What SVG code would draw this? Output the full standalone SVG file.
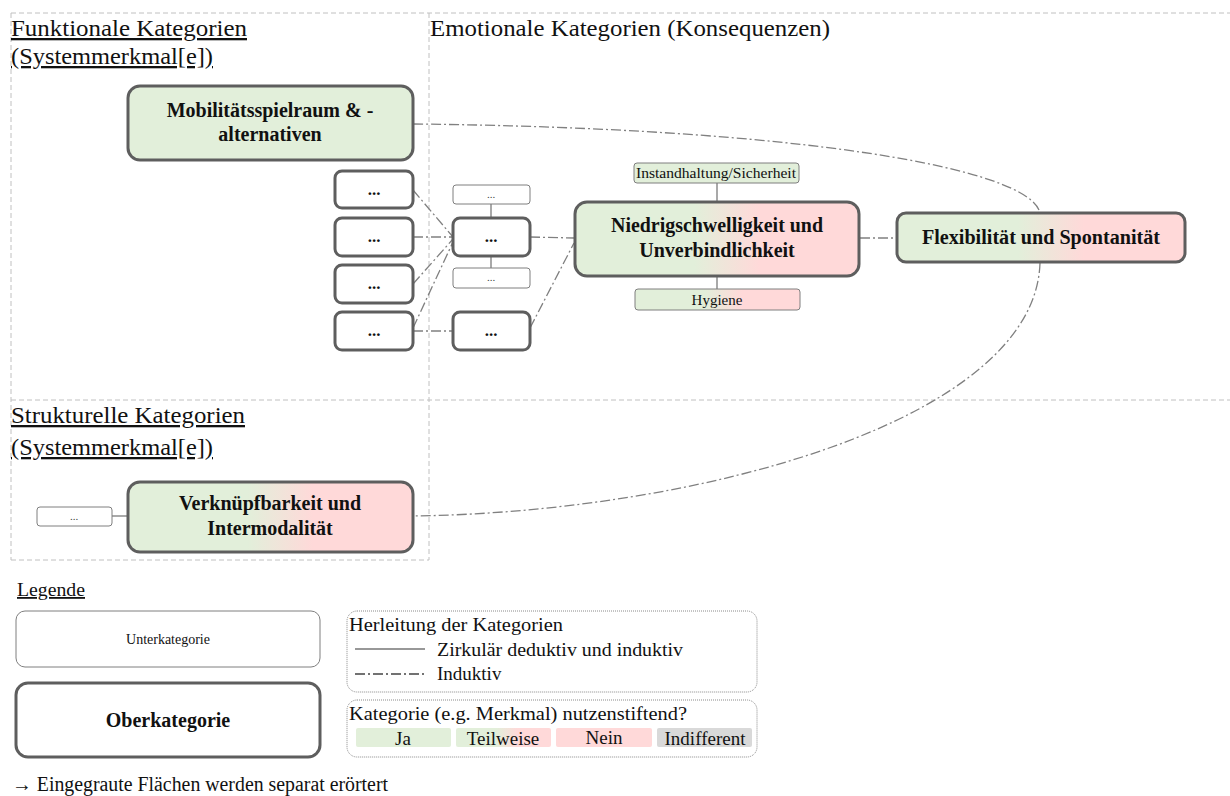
<svg xmlns="http://www.w3.org/2000/svg" width="1230" height="796" viewBox="0 0 1230 796">
<defs>
<linearGradient id="gp" x1="0" y1="0" x2="1" y2="0">
<stop offset="0" stop-color="#e2efda"/><stop offset="0.42" stop-color="#e2efda"/><stop offset="0.65" stop-color="#ffd9d9"/><stop offset="1" stop-color="#ffd9d9"/>
</linearGradient>
<style>
text{font-family:"Liberation Serif","Times New Roman",serif;fill:#111}
.region{fill:none;stroke:#c0c0c0;stroke-width:1;stroke-dasharray:5 3}
.head{font-size:23px;text-decoration:underline}
.big{stroke:#5e5e5e;stroke-width:3}
.small{stroke:#7f7f7f;stroke-width:1}
.bt{font-size:20px;font-weight:bold;text-anchor:middle}
.dots{font-size:17px;font-weight:bold;text-anchor:middle}
.sdots{font-size:11px;text-anchor:middle;fill:#444}
.ind{fill:none;stroke:#808080;stroke-width:1.3;stroke-dasharray:10 3 2 3}
.sol{fill:none;stroke:#707070;stroke-width:1.2}
.leg{font-size:19px}
.green{fill:#e2efda}.pink{fill:#ffd9d9}.grey{fill:#d9d9d9}.white{fill:#fff}
</style>
</defs>

<g id="regions">
<line class="region" x1="11" y1="13" x2="1230" y2="13"/>
<line class="region" x1="11" y1="13" x2="11" y2="560"/>
<line class="region" x1="429" y1="13" x2="429" y2="560"/>
<line class="region" x1="11" y1="400" x2="1230" y2="400"/>
<line class="region" x1="11" y1="560" x2="429" y2="560"/>
<text class="head" x="11" y="36" textLength="236" lengthAdjust="spacingAndGlyphs">Funktionale Kategorien</text>
<text class="head" x="11" y="64" textLength="202" lengthAdjust="spacingAndGlyphs">(Systemmerkmal[e])</text>
<text x="430" y="36" style="font-size:23px" textLength="400" lengthAdjust="spacingAndGlyphs">Emotionale Kategorien (Konsequenzen)</text>
<text class="head" x="11" y="423" textLength="234" lengthAdjust="spacingAndGlyphs">Strukturelle Kategorien</text>
<text class="head" x="11" y="455" textLength="202" lengthAdjust="spacingAndGlyphs">(Systemmerkmal[e])</text>
</g>

<g id="connectors">
<path class="ind" d="M413,124 C800,128 1030,168 1040,213"/>
<path class="ind" d="M1040,263 C1035,420 700,512 413,516"/>
<line class="ind" x1="413" y1="190" x2="453" y2="237"/>
<line class="ind" x1="413" y1="237" x2="453" y2="237"/>
<line class="ind" x1="413" y1="284" x2="453" y2="239"/>
<line class="ind" x1="413" y1="328" x2="453" y2="242"/>
<line class="ind" x1="413" y1="331" x2="453" y2="331"/>
<line class="ind" x1="530" y1="237" x2="574" y2="238"/>
<line class="ind" x1="530" y1="328" x2="574" y2="243"/>
<line class="ind" x1="860" y1="238" x2="897" y2="238"/>
<line class="sol" x1="491" y1="204" x2="491" y2="218"/>
<line class="sol" x1="491" y1="256" x2="491" y2="268"/>
<line class="sol" x1="717" y1="183" x2="717" y2="202"/>
<line class="sol" x1="717" y1="276" x2="717" y2="289"/>
<line class="sol" x1="112" y1="516" x2="128" y2="516"/>
</g>

<g id="n-mobil">
<rect class="big green" x="128" y="86" width="285" height="74" rx="12"/>
<text class="bt" x="270" y="117">Mobilitätsspielraum &amp; -</text>
<text class="bt" x="270" y="141">alternativen</text>
</g>
<g id="n-l1"><rect class="big white" x="335" y="171" width="78" height="37" rx="7"/><text class="dots" x="374" y="195">...</text></g>
<g id="n-l2"><rect class="big white" x="335" y="218" width="78" height="38" rx="7"/><text class="dots" x="374" y="242">...</text></g>
<g id="n-l3"><rect class="big white" x="335" y="265" width="78" height="38" rx="7"/><text class="dots" x="374" y="289">...</text></g>
<g id="n-l4"><rect class="big white" x="335" y="312" width="78" height="38" rx="7"/><text class="dots" x="374" y="336">...</text></g>
<g id="n-m0"><rect class="small white" x="453" y="185" width="77" height="19" rx="3"/><text class="sdots" x="491" y="198">...</text></g>
<g id="n-m1"><rect class="big white" x="453" y="218" width="77" height="38" rx="7"/><text class="dots" x="491" y="242">...</text></g>
<g id="n-m2"><rect class="small white" x="453" y="268" width="77" height="20" rx="3"/><text class="sdots" x="491" y="281">...</text></g>
<g id="n-m3"><rect class="big white" x="453" y="312" width="77" height="38" rx="7"/><text class="dots" x="491" y="336">...</text></g>

<g id="n-instand">
<rect class="small green" x="634" y="163" width="165" height="20" rx="3"/>
<text x="716" y="178" style="font-size:15px;text-anchor:middle" textLength="160" lengthAdjust="spacingAndGlyphs">Instandhaltung/Sicherheit</text>
</g>
<g id="n-niedrig">
<rect class="big" fill="url(#gp)" x="575" y="202" width="284" height="74" rx="12"/>
<text class="bt" x="717" y="232" textLength="212" lengthAdjust="spacingAndGlyphs">Niedrigschwelligkeit und</text>
<text class="bt" x="717" y="257">Unverbindlichkeit</text>
</g>
<g id="n-hygiene">
<rect class="small" fill="url(#gp)" x="635" y="289" width="165" height="21" rx="3"/>
<text x="717" y="305" style="font-size:15px;text-anchor:middle">Hygiene</text>
</g>
<g id="n-flex">
<rect class="big" fill="url(#gp)" x="897" y="213" width="288" height="49" rx="9"/>
<text class="bt" x="1041" y="244" textLength="238" lengthAdjust="spacingAndGlyphs">Flexibilität und Spontanität</text>
</g>
<g id="n-verkn-sub"><rect class="small white" x="37" y="507" width="75" height="19" rx="3"/><text class="sdots" x="74" y="520">...</text></g>
<g id="n-verkn">
<rect class="big" fill="url(#gp)" x="128" y="482" width="285" height="70" rx="12"/>
<text class="bt" x="270" y="510">Verknüpfbarkeit und</text>
<text class="bt" x="270" y="535">Intermodalität</text>
</g>

<g id="legend">
<text x="17" y="596" style="font-size:18px;text-decoration:underline" textLength="68" lengthAdjust="spacingAndGlyphs">Legende</text>
<rect class="small white" x="16" y="611" width="304" height="56" rx="9"/>
<text x="168" y="644" style="font-size:14px;text-anchor:middle">Unterkategorie</text>
<rect class="big white" x="16" y="683" width="304" height="74" rx="12"/>
<text class="bt" x="168" y="727">Oberkategorie</text>
<rect x="347" y="611" width="410" height="81" rx="10" fill="none" stroke="#8a8a8a" stroke-width="1" stroke-dasharray="1 1"/>
<text class="leg" x="349" y="631" textLength="214" lengthAdjust="spacingAndGlyphs">Herleitung der Kategorien</text>
<line class="sol" x1="355" y1="649" x2="425" y2="649" style="stroke:#333"/>
<text class="leg" x="437" y="656" textLength="246" lengthAdjust="spacingAndGlyphs">Zirkulär deduktiv und induktiv</text>
<line class="ind" x1="355" y1="674" x2="425" y2="674" style="stroke:#444"/>
<text class="leg" x="437" y="680">Induktiv</text>
<rect x="347" y="700" width="410" height="57" rx="10" fill="none" stroke="#8a8a8a" stroke-width="1" stroke-dasharray="1 1"/>
<text class="leg" x="349" y="720" textLength="338" lengthAdjust="spacingAndGlyphs">Kategorie (e.g. Merkmal) nutzenstiftend?</text>
<rect class="green" x="356" y="728" width="95" height="19" rx="2"/>
<rect fill="url(#gp)" x="456" y="728" width="95" height="19" rx="2"/>
<rect class="pink" x="556" y="728" width="96" height="19" rx="2"/>
<rect class="grey" x="657" y="728" width="95" height="19" rx="2"/>
<text class="leg" x="403" y="745" style="text-anchor:middle">Ja</text>
<text class="leg" x="503" y="745" style="text-anchor:middle">Teilweise</text>
<text class="leg" x="604" y="744" style="text-anchor:middle">Nein</text>
<text class="leg" x="705" y="745" style="text-anchor:middle">Indifferent</text>
<text x="12" y="791" style="font-size:20px" textLength="376" lengthAdjust="spacingAndGlyphs">→ Eingegraute Flächen werden separat erörtert</text>
</g>
</svg>
